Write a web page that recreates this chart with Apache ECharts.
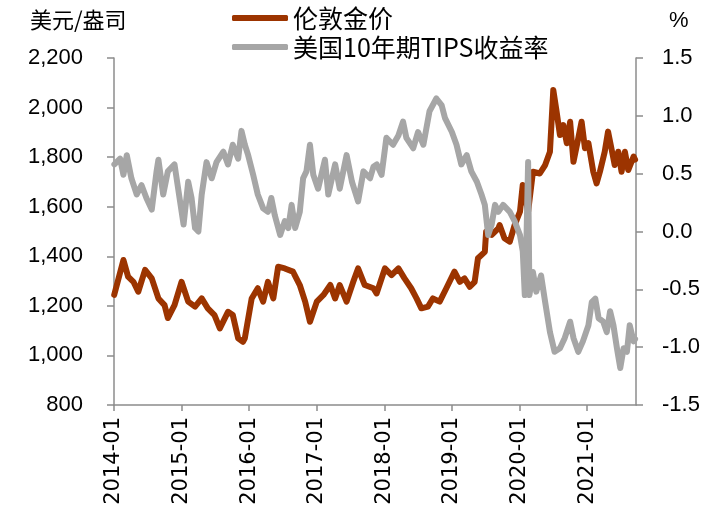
<!DOCTYPE html>
<html>
<head>
<meta charset="utf-8">
<title>伦敦金价与美国10年期TIPS收益率</title>
<script src="https://cdn.jsdelivr.net/npm/echarts@6/dist/echarts.min.js"></script>
<style>
  html, body { margin: 0; padding: 0; background: #fff; }
  #chart { width: 718px; height: 517px; }
</style>
</head>
<body>
<div id="chart"></div>
<script>
// 伦敦金价（美元/盎司）
const goldDates = [
  '2014-01-02', '2014-02-21', '2014-03-18', '2014-04-16', '2014-05-12', '2014-06-18', '2014-07-24', '2014-08-29',
  '2014-10-01', '2014-10-19', '2014-11-24', '2015-01-01', '2015-02-06', '2015-03-15', '2015-04-20', '2015-05-23',
  '2015-06-28', '2015-07-27', '2015-09-09', '2015-10-05', '2015-11-03', '2015-11-29', '2015-12-09', '2016-01-15',
  '2016-02-17', '2016-03-17', '2016-04-12', '2016-05-11', '2016-06-06', '2016-07-12', '2016-08-25', '2016-10-01',
  '2016-10-30', '2016-11-25', '2017-01-01', '2017-02-06', '2017-03-15', '2017-04-10', '2017-05-05', '2017-06-11',
  '2017-07-17', '2017-08-12', '2017-09-17', '2017-11-03', '2017-11-20', '2018-01-04', '2018-02-09', '2018-03-18',
  '2018-04-20', '2018-05-26', '2018-06-24', '2018-07-20', '2018-08-25', '2018-09-20', '2018-10-27', '2018-12-02',
  '2019-01-15', '2019-02-13', '2019-03-10', '2019-04-08', '2019-05-04', '2019-05-22', '2019-06-28', '2019-07-05',
  '2019-08-04', '2019-09-09', '2019-09-16', '2019-10-12', '2019-11-10', '2019-12-06', '2020-01-04', '2020-01-19',
  '2020-02-17', '2020-03-14', '2020-04-20', '2020-05-19', '2020-06-14', '2020-07-02', '2020-07-20', '2020-08-07',
  '2020-08-25', '2020-09-13', '2020-10-01', '2020-10-19', '2020-11-14', '2020-12-02', '2020-12-20', '2021-01-08',
  '2021-02-03', '2021-02-21', '2021-03-11', '2021-04-06', '2021-04-24', '2021-05-12', '2021-05-30', '2021-06-18',
  '2021-07-06', '2021-07-24', '2021-08-11', '2021-09-09', '2021-09-17'
];
const goldPrice = [
  1244, 1385, 1318, 1297, 1257, 1345, 1311, 1230,
  1203, 1151, 1203, 1297, 1217, 1197, 1230, 1190,
  1163, 1109, 1176, 1163, 1069, 1055, 1069, 1230,
  1271, 1217, 1297, 1230, 1358, 1351, 1338, 1284,
  1217, 1136, 1217, 1244, 1284, 1230, 1284, 1217,
  1297, 1351, 1284, 1271, 1250, 1351, 1324, 1351,
  1311, 1271, 1230, 1190, 1197, 1230, 1217, 1271,
  1338, 1297, 1311, 1277, 1297, 1392, 1418, 1499,
  1486, 1513, 1526, 1473, 1459, 1526, 1580, 1688,
  1580, 1741, 1734, 1768, 1822, 2071, 1983, 1889,
  1929, 1856, 1943, 1781, 1876, 1943, 1836, 1856,
  1741, 1694, 1741, 1822, 1903, 1836, 1768, 1822,
  1741, 1822, 1748, 1802, 1790
];

// 美国10年期TIPS收益率（%）
const tipsDates = [
  '2014-01-03', '2014-02-03', '2014-02-21', '2014-03-11', '2014-04-05', '2014-05-04', '2014-05-30', '2014-06-25',
  '2014-07-24', '2014-08-19', '2014-08-29', '2014-09-24', '2014-10-19', '2014-11-24', '2014-12-24', '2015-01-12',
  '2015-02-06', '2015-02-24', '2015-03-15', '2015-04-02', '2015-04-20', '2015-05-16', '2015-06-13', '2015-07-09',
  '2015-08-15', '2015-09-09', '2015-10-05', '2015-11-03', '2015-11-21', '2015-12-09', '2015-12-27', '2016-01-23',
  '2016-02-17', '2016-03-17', '2016-04-12', '2016-04-30', '2016-05-19', '2016-06-17', '2016-07-12', '2016-07-31',
  '2016-08-18', '2016-09-06', '2016-10-01', '2016-10-19', '2016-11-06', '2016-11-25', '2016-12-13', '2017-01-08',
  '2017-02-14', '2017-03-04', '2017-04-10', '2017-05-05', '2017-06-11', '2017-07-10', '2017-08-12', '2017-09-10',
  '2017-10-16', '2017-11-03', '2017-11-21', '2017-12-17', '2018-01-12', '2018-02-17', '2018-03-18', '2018-04-12',
  '2018-04-30', '2018-06-06', '2018-07-02', '2018-07-31', '2018-09-02', '2018-10-09', '2018-11-07', '2018-11-25',
  '2019-01-01', '2019-01-26', '2019-02-21', '2019-03-22', '2019-04-16', '2019-05-16', '2019-06-10', '2019-06-28',
  '2019-07-16', '2019-08-04', '2019-08-22', '2019-09-09', '2019-10-05', '2019-11-10', '2019-12-06', '2020-01-04',
  '2020-01-19', '2020-01-30', '2020-02-06', '2020-02-17', '2020-02-24', '2020-03-14', '2020-04-01', '2020-04-27',
  '2020-05-19', '2020-06-14', '2020-07-09', '2020-08-07', '2020-09-02', '2020-10-01', '2020-10-19', '2020-11-14',
  '2020-12-09', '2021-01-08', '2021-01-26', '2021-02-14', '2021-03-04', '2021-03-29', '2021-04-17', '2021-05-05',
  '2021-05-23', '2021-06-11', '2021-06-29', '2021-07-17', '2021-08-04', '2021-08-19', '2021-09-09', '2021-09-17'
];
const tipsYield = [
  0.58, 0.63, 0.49, 0.66, 0.46, 0.32, 0.40, 0.29,
  0.19, 0.52, 0.62, 0.32, 0.52, 0.58, 0.26, 0.06,
  0.43, 0.29, 0.03, 0.00, 0.32, 0.60, 0.46, 0.60,
  0.69, 0.58, 0.75, 0.63, 0.87, 0.75, 0.66, 0.49,
  0.32, 0.20, 0.17, 0.29, 0.14, -0.03, 0.09, 0.03,
  0.23, 0.03, 0.17, 0.46, 0.52, 0.75, 0.49, 0.37,
  0.62, 0.32, 0.58, 0.37, 0.66, 0.43, 0.26, 0.52,
  0.46, 0.56, 0.58, 0.49, 0.81, 0.75, 0.83, 0.95,
  0.81, 0.72, 0.86, 0.75, 1.04, 1.15, 1.09, 0.98,
  0.86, 0.75, 0.58, 0.66, 0.52, 0.43, 0.32, 0.23,
  -0.03, 0.06, 0.23, 0.17, 0.23, 0.17, 0.09, -0.03,
  -0.17, -0.55, -0.23, 0.60, -0.55, -0.35, -0.52, -0.38,
  -0.61, -0.87, -1.04, -1.01, -0.92, -0.78, -0.92, -1.04,
  -0.95, -0.81, -0.61, -0.58, -0.75, -0.78, -0.87, -0.69,
  -0.81, -1.01, -1.18, -1.01, -1.04, -0.81, -0.95, -0.93
];

const goldColor = '#9C3400';
const tipsColor = '#A6A6A6';
const axisColor = '#8C8C8C';
const numFont = 'Liberation Sans';
const cjkFont = 'Noto Sans CJK SC';

const chart = echarts.init(document.getElementById('chart'));

chart.setOption({
  animation: false,
  backgroundColor: '#fff',
  grid: { left: 114, right: 82, top: 58, bottom: 112 },
  legend: {
    orient: 'vertical',
    left: 227,
    top: 0,
    itemWidth: 56,
    itemHeight: 6,
    itemGap: 3,
    icon: 'roundRect',
    textStyle: { fontFamily: cjkFont, fontSize: 25, color: '#000', lineHeight: 26 },
    data: ['伦敦金价', '美国10年期TIPS收益率']
  },
  graphic: [
    {
      type: 'text', left: 30, top: 9,
      style: { text: '美元/盎司', font: '22px "Noto Sans CJK SC"', fill: '#000' }
    },
    {
      type: 'text', left: 669, top: 10,
      style: { text: '%', font: '22px "Liberation Sans"', fill: '#000' }
    }
  ],
  xAxis: {
    type: 'time',
    min: '2014-01-01',
    max: '2021-09-22',
    splitNumber: 8,
    minInterval: 365 * 24 * 3600 * 1000,
    maxInterval: 366 * 24 * 3600 * 1000,
    axisLine: { onZero: false, lineStyle: { color: axisColor, width: 1.5 } },
    axisTick: { show: true, length: 6, lineStyle: { color: axisColor, width: 1.5 } },
    splitLine: { show: false },
    axisLabel: {
      rotate: 90,
      margin: 12,
      showMaxLabel: false,
      formatter: '{yyyy}-{MM}',
      fontFamily: 'DejaVu Sans',
      fontSize: 21,
      color: '#000'
    }
  },
  yAxis: [
    {
      type: 'value',
      min: 800,
      max: 2200,
      interval: 200,
      axisLine: { show: true, lineStyle: { color: axisColor, width: 1.5 } },
      axisTick: { show: true, length: 7, lineStyle: { color: axisColor, width: 1.5 } },
      splitLine: { show: false },
      axisLabel: {
        margin: 31,
        fontFamily: numFont,
        fontSize: 22,
        color: '#000',
        formatter: (v) => v.toLocaleString('en-US')
      }
    },
    {
      type: 'value',
      min: -1.5,
      max: 1.5,
      interval: 0.5,
      position: 'right',
      axisLine: { show: true, lineStyle: { color: axisColor, width: 1.5 } },
      axisTick: { show: true, length: 7, lineStyle: { color: axisColor, width: 1.5 } },
      splitLine: { show: false },
      axisLabel: {
        margin: 26,
        fontFamily: numFont,
        fontSize: 22,
        color: '#000',
        formatter: (v) => v.toFixed(1)
      }
    }
  ],
  series: [
    {
      name: '伦敦金价',
      type: 'line',
      yAxisIndex: 0,
      showSymbol: false,
      color: goldColor,
      lineStyle: { color: goldColor, width: 6, join: 'round', cap: 'round' },
      data: goldDates.map((d, i) => [d, goldPrice[i]])
    },
    {
      name: '美国10年期TIPS收益率',
      type: 'line',
      yAxisIndex: 1,
      showSymbol: false,
      color: tipsColor,
      lineStyle: { color: tipsColor, width: 6, join: 'round', cap: 'round' },
      data: tipsDates.map((d, i) => [d, tipsYield[i]])
    }
  ]
});
</script>
</body>
</html>
